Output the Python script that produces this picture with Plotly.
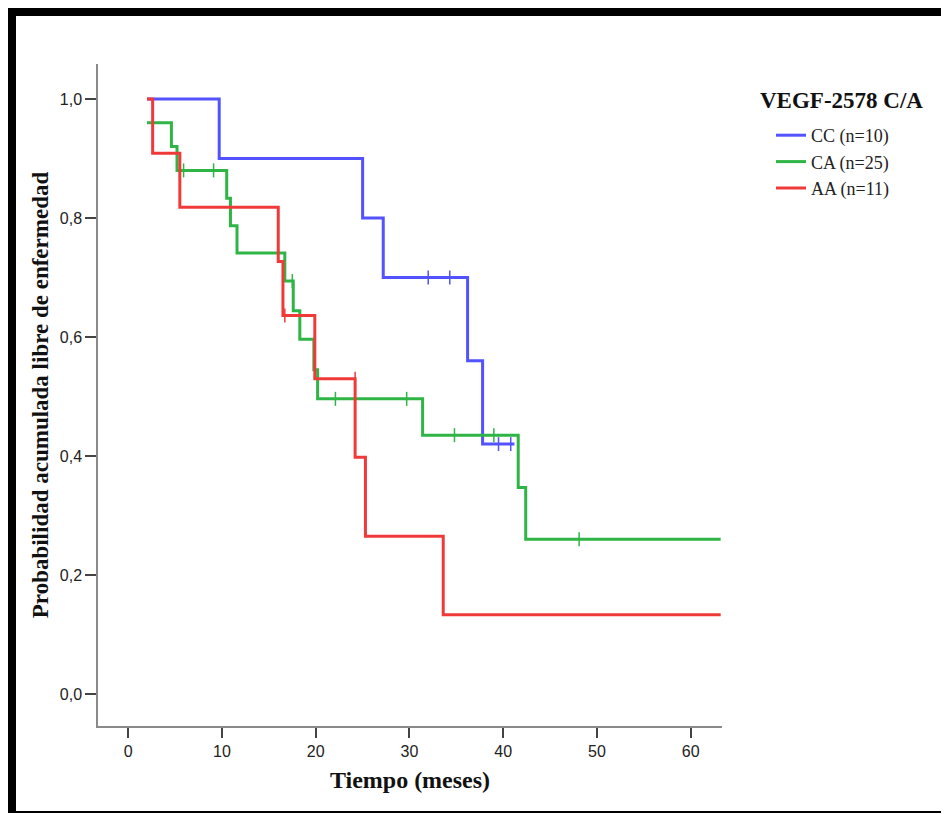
import plotly.graph_objects as go

# ---------------- data ----------------
groups = ["CC (n=10)", "CA (n=25)", "AA (n=11)"]

cc_time = [2.0, 9.7, 25.0, 27.2, 36.2, 37.8, 41.2]
cc_surv = [1.0, 0.90, 0.80, 0.70, 0.56, 0.42, 0.42]
cc_cens_time = [32.0, 34.3, 39.5, 40.8]
cc_cens_surv = [0.70, 0.70, 0.42, 0.42]

ca_time = [2.0, 4.6, 5.2, 10.5, 10.9, 11.6, 16.7, 17.6, 18.3, 19.8, 20.2, 31.4, 41.6, 42.4, 63.2]
ca_surv = [0.96, 0.92, 0.88, 0.833, 0.787, 0.741, 0.694, 0.644, 0.596, 0.545, 0.496, 0.435, 0.347, 0.26, 0.26]
ca_cens_time = [5.9, 9.1, 17.5, 22.1, 29.7, 34.8, 39.0, 48.1]
ca_cens_surv = [0.88, 0.88, 0.694, 0.496, 0.496, 0.435, 0.435, 0.26]

aa_time = [2.0, 2.6, 5.5, 16.0, 16.5, 19.9, 24.2, 25.3, 33.6, 63.2]
aa_surv = [1.0, 0.909, 0.818, 0.727, 0.636, 0.53, 0.398, 0.265, 0.133, 0.133]
aa_cens_time = [16.7, 24.2]
aa_cens_surv = [0.636, 0.53]

x_ticks = [0, 10, 20, 30, 40, 50, 60]
y_ticks = [0.0, 0.2, 0.4, 0.6, 0.8, 1.0]

colors = ["#5252ff", "#2eb545", "#f03a3a"]

# ---------------- layout geometry (screen pixels) ----------------
OFF = 8                      # page body margin
W, H = 949 - OFF, 814 - OFF  # figure size
PL, PR, PT, PB = 98, 722, 64, 726  # plot area edges (screen coords)


def px_x(p):
    return (p - PL) / (PR - PL)


def px_y(p):
    return (PB - p) / (PB - PT)


fig = go.Figure()

series = [
    (cc_time, cc_surv, cc_cens_time, cc_cens_surv),
    (ca_time, ca_surv, ca_cens_time, ca_cens_surv),
    (aa_time, aa_surv, aa_cens_time, aa_cens_surv),
]

for name, col, (t, s, ct, cs) in zip(groups, colors, series):
    fig.add_trace(go.Scatter(
        x=t, y=s, mode="lines", name=name,
        line=dict(color=col, width=3, shape="hv"),
        legendgroup=name,
    ))
    fig.add_trace(go.Scatter(
        x=ct, y=cs, mode="markers", name=name + " censurado",
        marker=dict(symbol="line-ns", size=10, line=dict(color=col, width=1.5)),
        showlegend=False, legendgroup=name,
    ))

axis_common = dict(
    showline=True, linecolor="#8a8a8a", linewidth=1.5,
    ticks="outside", tickcolor="#444444", tickwidth=1.5,
    showgrid=False, zeroline=False,
    tickfont=dict(family="Liberation Sans, Arial, sans-serif", size=16, color="#222222"),
)

fig.update_xaxes(
    range=[-3.23, 63.34], tickvals=x_ticks, ticklen=10,
    title=dict(text="<b>Tiempo (meses)</b>", standoff=12,
               font=dict(family="Liberation Serif, Times New Roman, serif", size=24, color="#111111")),
    **axis_common,
)
fig.update_yaxes(
    range=[-0.0538, 1.0588], tickvals=y_ticks, tickformat=".1f", ticklen=11,
    title=dict(text="<b>Probabilidad acumulada libre de enfermedad</b>", standoff=5,
               font=dict(family="Liberation Serif, Times New Roman, serif", size=23, color="#111111")),
    **axis_common,
)

# outer frame (thick black top and left, thin bottom)
frame = [
    dict(x0=8, x1=949, y0=8, y1=16),
    dict(x0=8, x1=16, y0=8, y1=812),
    dict(x0=8, x1=949, y0=811, y1=813),
]
for f in frame:
    fig.add_shape(type="rect", xref="paper", yref="paper",
                  x0=px_x(f["x0"]), x1=px_x(f["x1"]),
                  y0=px_y(f["y1"]), y1=px_y(f["y0"]),
                  fillcolor="black", line=dict(width=0), layer="above")

fig.add_annotation(
    text="<b>VEGF-2578 C/A</b>", xref="paper", yref="paper",
    x=px_x(758), y=px_y(100), xanchor="left", yanchor="middle", showarrow=False,
    font=dict(family="Liberation Serif, Times New Roman, serif", size=23, color="#111111"),
)

fig.update_layout(
    width=W, height=H,
    margin=dict(l=PL - OFF, r=(W + OFF) - PR, t=PT - OFF, b=(H + OFF) - PB, autoexpand=False),
    paper_bgcolor="white", plot_bgcolor="white",
    separators=",.",
    showlegend=True,
    legend=dict(
        x=px_x(771), y=px_y(117), xanchor="left", yanchor="top",
        font=dict(family="Liberation Serif, Times New Roman, serif", size=18, color="#222222"),
        traceorder="grouped", tracegroupgap=0,
        bgcolor="rgba(0,0,0,0)",
    ),
)

fig.write_html("out.html")
